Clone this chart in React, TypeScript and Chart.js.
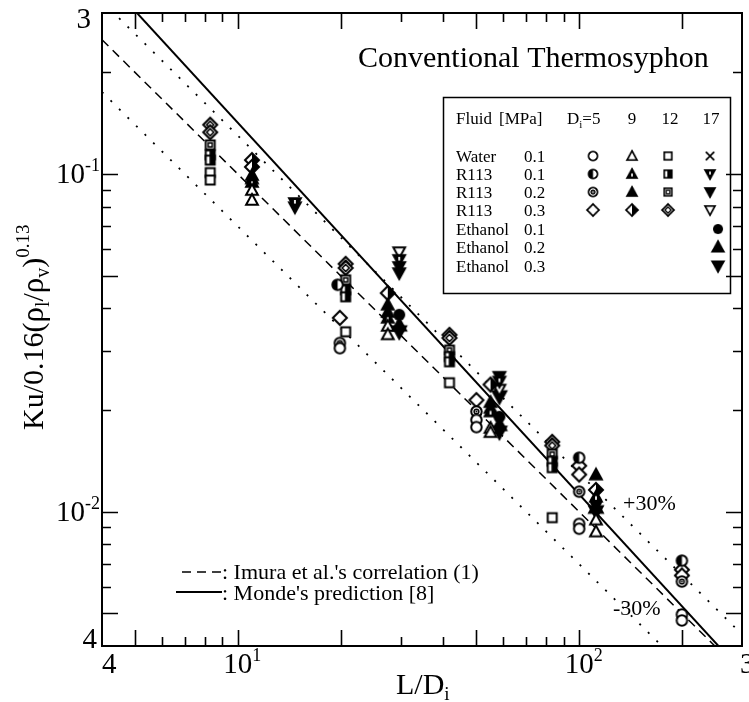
import React, { useEffect, useRef } from 'react';
import { Chart, registerables } from 'chart.js';

Chart.register(...registerables);

const FONT = '"Liberation Serif", "Times New Roman", serif';

// Axis ranges
const X_MIN = 4;
const X_MAX = 300;
const Y_MIN = 0.004;
const Y_MAX = 0.3;

// Tick values
const xTickVals = [5, 6, 7, 8, 9, 10, 20, 30, 40, 50, 60, 70, 80, 90, 100, 200];
const xLongTicks = [5, 10, 20, 50, 100, 200];
const yTickVals = [0.005, 0.006, 0.007, 0.008, 0.009, 0.01, 0.02, 0.03, 0.04, 0.05, 0.06, 0.07, 0.08, 0.09, 0.1, 0.2];
const yLongTicks = [0.005, 0.01, 0.05, 0.1];

// Correlation lines (end points read at the plot edges)
const imuraX = [4, 300];
const imuraY = [0.25, 0.00333];
const mondeX = [4, 300];
const mondeY = [0.389, 0.00336];
const plus30X = [4, 300];
const plus30Y = [0.325, 0.00433];
const minus30X = [4, 300];
const minus30Y = [0.175, 0.00233];

// Data: Di = 5
const water5X = [19.9, 50, 50, 100, 100, 200, 200];
const water5Y = [0.0305, 0.0187, 0.0178, 0.0092, 0.0089, 0.00496, 0.00476];
const r113a5X = [19.6, 100, 200];
const r113a5Y = [0.047, 0.01445, 0.00716];
const r113b5X = [19.9, 50, 100, 200];
const r113b5Y = [0.0316, 0.0198, 0.01146, 0.00621];
const r113c5X = [19.9, 50, 100, 100, 200, 200];
const r113c5Y = [0.0375, 0.0214, 0.01368, 0.01288, 0.00673, 0.00647];

// Di = 9
const water9X = [11, 11, 27.5, 27.5, 55, 55, 112, 112];
const water9Y = [0.0897, 0.0838, 0.0355, 0.0335, 0.0177, 0.0172, 0.00947, 0.00873];
const r113a9X = [11, 27.5, 55, 112];
const r113a9Y = [0.0947, 0.0375, 0.0198, 0.01107];
const r113b9X = [11, 11, 27.5, 27.5, 55, 55, 112];
const r113b9Y = [0.0993, 0.097, 0.041, 0.039, 0.0211, 0.0203, 0.01287];
const r113c9X = [11, 11, 27.5, 55, 112];
const r113c9Y = [0.11, 0.105, 0.0444, 0.0238, 0.0116];

// Di = 12
const water12X = [8.3, 8.3, 20.7, 41.7, 83.4];
const water12Y = [0.101, 0.096, 0.0341, 0.0241, 0.0096];
const r113a12X = [8.3, 8.3, 20.7, 20.7, 41.7, 41.7, 83.4, 83.4];
const r113a12Y = [0.114, 0.11, 0.0454, 0.0433, 0.0288, 0.0278, 0.0141, 0.0135];
const r113b12X = [8.3, 20.7, 41.7, 83.4];
const r113b12Y = [0.122, 0.0486, 0.0301, 0.0148];
const r113c12X = [8.3, 8.3, 20.7, 20.7, 41.7, 41.7, 83.4, 83.4];
const r113c12Y = [0.14, 0.133, 0.0542, 0.0527, 0.0334, 0.0327, 0.0161, 0.0157];

// Di = 17
const water17X: number[] = [];
const water17Y: number[] = [];
const r113a17X = [14.7, 29.7, 58.4];
const r113a17Y = [0.0821, 0.0557, 0.0243];
const r113b17X = [14.7, 29.7, 29.7, 58.4];
const r113b17Y = [0.0798, 0.0531, 0.0509, 0.0251];
const r113c17X = [29.7, 58.4];
const r113c17Y = [0.0587, 0.023];
const eth1X = [29.7, 58.4, 112];
const eth1Y = [0.0383, 0.0191, 0.0107];
const eth2X = [29.7, 58.4, 112];
const eth2Y = [0.0357, 0.0181, 0.0103];
const eth3X = [29.7, 58.4, 58.4, 112];
const eth3Y = [0.0341, 0.0219, 0.0172, 0.01];

// Legend text
const legendFluids = ['Water', 'R113', 'R113', 'R113', 'Ethanol', 'Ethanol', 'Ethanol'];
const legendPressures = ['0.1', '0.1', '0.2', '0.3', '0.1', '0.2', '0.3'];
const legendDiams = ['9', '12', '17'];

type Kind =
  | 'circle' | 'circleHalf' | 'circleDot' | 'circleFill'
  | 'diamond' | 'diamondHalf' | 'diamondDot'
  | 'tri' | 'triHalf' | 'triFill'
  | 'square' | 'squareHalf' | 'squareDot'
  | 'cross' | 'triDown' | 'triDownHalf' | 'triDownFill';

const SIZES: Record<string, number> = {
  circle: 12.5, circleHalf: 12.5, circleDot: 12.5, circleFill: 14,
  diamond: 16, diamondHalf: 16, diamondDot: 16,
  tri: 14, triHalf: 14, triFill: 14,
  square: 12, squareHalf: 12, squareDot: 12,
  cross: 12, triDown: 14, triDownHalf: 14, triDownFill: 14,
};

function makeMarker(kind: Kind, sizeOverride?: number): HTMLCanvasElement {
  const size = sizeOverride || SIZES[kind];
  const S = Math.ceil(size + 4);
  const c = document.createElement('canvas');
  c.width = S;
  c.height = S;
  const g = c.getContext('2d') as CanvasRenderingContext2D;
  const cx = S / 2;
  const cy = S / 2;
  const r = size / 2 - 1;
  g.lineWidth = 2;
  g.lineJoin = 'miter';
  g.strokeStyle = '#000';
  g.fillStyle = '#000';
  const circle = (rr: number) => { g.beginPath(); g.arc(cx, cy, rr, 0, Math.PI * 2); };
  const diamond = (rr: number) => {
    g.beginPath(); g.moveTo(cx, cy - rr); g.lineTo(cx + rr, cy); g.lineTo(cx, cy + rr); g.lineTo(cx - rr, cy); g.closePath();
  };
  const triUp = (rr: number) => {
    g.beginPath(); g.moveTo(cx, cy - rr); g.lineTo(cx + rr * 0.98, cy + rr * 0.78); g.lineTo(cx - rr * 0.98, cy + rr * 0.78); g.closePath();
  };
  const triDn = (rr: number) => {
    g.beginPath(); g.moveTo(cx, cy + rr); g.lineTo(cx + rr * 0.98, cy - rr * 0.78); g.lineTo(cx - rr * 0.98, cy - rr * 0.78); g.closePath();
  };
  const sq = (rr: number) => { g.beginPath(); g.rect(cx - rr, cy - rr, 2 * rr, 2 * rr); };
  const white = () => { g.fillStyle = '#fff'; g.fill(); g.fillStyle = '#000'; };
  switch (kind) {
    case 'circle': circle(r); white(); g.stroke(); break;
    case 'circleHalf':
      circle(r); white(); g.save(); g.clip(); g.fillRect(cx - r - 1, cy - r - 1, r + 1, 2 * r + 2); g.restore(); circle(r); g.stroke(); break;
    case 'circleDot':
      circle(r); white(); g.stroke(); g.lineWidth = 1.5; circle(r * 0.45); g.stroke(); circle(1); g.fill(); break;
    case 'circleFill': circle(r); g.fill(); break;
    case 'diamond': diamond(r); white(); g.stroke(); break;
    case 'diamondHalf':
      diamond(r); white(); g.save(); g.clip(); g.fillRect(cx, cy - r - 1, r + 1, 2 * r + 2); g.restore(); diamond(r); g.stroke(); break;
    case 'diamondDot':
      diamond(r); white(); g.stroke(); g.lineWidth = 1.6; diamond(r * 0.5); g.stroke(); break;
    case 'tri': triUp(r); white(); g.stroke(); break;
    case 'triHalf':
      triUp(r); g.fill(); g.stroke(); g.fillStyle = '#fff'; g.fillRect(cx - 0.9, cy - r * 0.1, 1.8, r * 0.6); break;
    case 'triFill': triUp(r); g.fill(); g.stroke(); break;
    case 'square': sq(r * 0.9); white(); g.stroke(); break;
    case 'squareHalf':
      sq(r * 0.9); white(); g.fillRect(cx - r * 0.15, cy - r * 0.9, r * 1.05, r * 1.8); sq(r * 0.9); g.stroke(); break;
    case 'squareDot':
      sq(r * 0.9); white(); g.stroke(); g.lineWidth = 1.5; sq(r * 0.4); g.stroke(); break;
    case 'cross':
      g.beginPath(); g.moveTo(cx - r, cy - r); g.lineTo(cx + r, cy + r); g.moveTo(cx + r, cy - r); g.lineTo(cx - r, cy + r); g.stroke(); break;
    case 'triDown': triDn(r); white(); g.stroke(); break;
    case 'triDownHalf':
      triDn(r); g.fill(); g.stroke(); g.fillStyle = '#fff'; g.fillRect(cx - 0.9, cy - r * 0.5, 1.8, r * 0.6); break;
    case 'triDownFill': triDn(r); g.fill(); g.stroke(); break;
  }
  return c;
}

type Run = [string, number, number?];

function runsWidth(ctx: CanvasRenderingContext2D, runs: Run[]) {
  let w = 0;
  for (const [t, s] of runs) {
    ctx.font = `${s}px ${FONT}`;
    w += ctx.measureText(t).width;
  }
  return w;
}

function drawRuns(ctx: CanvasRenderingContext2D, runs: Run[], x: number, y: number, align: 'left' | 'center' | 'right' = 'left') {
  const total = runsWidth(ctx, runs);
  let cx = align === 'left' ? x : align === 'center' ? x - total / 2 : x - total;
  ctx.textAlign = 'left';
  ctx.textBaseline = 'alphabetic';
  for (const [t, s, dy] of runs) {
    ctx.font = `${s}px ${FONT}`;
    ctx.fillText(t, cx, y + (dy || 0));
    cx += ctx.measureText(t).width;
  }
}

export default function App() {
  const ref = useRef<HTMLCanvasElement>(null);

  useEffect(() => {
    const M = {
      circle: makeMarker('circle'),
      circleHalf: makeMarker('circleHalf'),
      circleDot: makeMarker('circleDot'),
      diamond: makeMarker('diamond'),
      diamondHalf: makeMarker('diamondHalf'),
      diamondDot: makeMarker('diamondDot'),
      tri: makeMarker('tri'),
      triHalf: makeMarker('triHalf'),
      triFill: makeMarker('triFill'),
      square: makeMarker('square'),
      squareHalf: makeMarker('squareHalf'),
      squareDot: makeMarker('squareDot'),
      cross: makeMarker('cross'),
      triDown: makeMarker('triDown'),
      triDownHalf: makeMarker('triDownHalf'),
      triDownFill: makeMarker('triDownFill'),
      ethCircle: makeMarker('circleFill', 14),
      ethTri: makeMarker('triFill', 16),
      ethTriDown: makeMarker('triDownFill', 16),
    };

    const series = [
      { label: 'Water 0.1 D5', x: water5X, y: water5Y, m: M.circle },
      { label: 'R113 0.1 D5', x: r113a5X, y: r113a5Y, m: M.circleHalf },
      { label: 'R113 0.2 D5', x: r113b5X, y: r113b5Y, m: M.circleDot },
      { label: 'R113 0.3 D5', x: r113c5X, y: r113c5Y, m: M.diamond },
      { label: 'Water 0.1 D9', x: water9X, y: water9Y, m: M.tri },
      { label: 'R113 0.1 D9', x: r113a9X, y: r113a9Y, m: M.triHalf },
      { label: 'R113 0.2 D9', x: r113b9X, y: r113b9Y, m: M.triFill },
      { label: 'R113 0.3 D9', x: r113c9X, y: r113c9Y, m: M.diamondHalf },
      { label: 'Water 0.1 D12', x: water12X, y: water12Y, m: M.square },
      { label: 'R113 0.1 D12', x: r113a12X, y: r113a12Y, m: M.squareHalf },
      { label: 'R113 0.2 D12', x: r113b12X, y: r113b12Y, m: M.squareDot },
      { label: 'R113 0.3 D12', x: r113c12X, y: r113c12Y, m: M.diamondDot },
      { label: 'Water 0.1 D17', x: water17X, y: water17Y, m: M.cross },
      { label: 'R113 0.1 D17', x: r113a17X, y: r113a17Y, m: M.triDownHalf },
      { label: 'R113 0.2 D17', x: r113b17X, y: r113b17Y, m: M.triDownFill },
      { label: 'R113 0.3 D17', x: r113c17X, y: r113c17Y, m: M.triDown },
      { label: 'Ethanol 0.1', x: eth1X, y: eth1Y, m: M.ethCircle },
      { label: 'Ethanol 0.2', x: eth2X, y: eth2Y, m: M.ethTri },
      { label: 'Ethanol 0.3', x: eth3X, y: eth3Y, m: M.ethTriDown },
    ];

    const toPts = (xs: number[], ys: number[]) => xs.map((x, i) => ({ x, y: ys[i] }));

    const pointSets = series.map((s) => ({
      label: s.label,
      type: 'scatter' as const,
      data: toPts(s.x, s.y),
      pointStyle: s.m,
      pointRadius: 6,
      pointHoverRadius: 6,
      showLine: false,
    }));

    const lineSet = (label: string, xs: number[], ys: number[], dash: number[], width: number) => ({
      label,
      type: 'line' as const,
      data: toPts(xs, ys),
      borderColor: '#000',
      borderWidth: width,
      borderDash: dash,
      pointRadius: 0,
      showLine: true,
      fill: false,
    });

    const lineSets = [
      lineSet("Monde's prediction", mondeX, mondeY, [], 2),
      lineSet("Imura et al.'s correlation", imuraX, imuraY, [9, 6], 1.5),
      lineSet('+30%', plus30X, plus30Y, [2, 10], 1.8),
      lineSet('-30%', minus30X, minus30Y, [2, 10], 1.8),
    ];

    const deco = {
      id: 'deco',
      afterDatasetsDraw(chart: any) {
        const ctx: CanvasRenderingContext2D = chart.ctx;
        const xs = chart.scales.x;
        const ys = chart.scales.y;
        const { left, right, top, bottom } = chart.chartArea;
        ctx.save();
        ctx.strokeStyle = '#000';
        ctx.fillStyle = '#000';

        // frame
        ctx.lineWidth = 2;
        ctx.strokeRect(left, top, right - left, bottom - top);

        // ticks
        ctx.lineWidth = 1.6;
        ctx.beginPath();
        for (const v of xTickVals) {
          const px = Math.round(xs.getPixelForValue(v)) + 0.5;
          const len = xLongTicks.includes(v) ? 16 : 9;
          ctx.moveTo(px, bottom); ctx.lineTo(px, bottom - len);
          ctx.moveTo(px, top); ctx.lineTo(px, top + len);
        }
        for (const v of yTickVals) {
          const py = Math.round(ys.getPixelForValue(v)) + 0.5;
          const len = yLongTicks.includes(v) ? 16 : 9;
          ctx.moveTo(left, py); ctx.lineTo(left + len, py);
          ctx.moveTo(right, py); ctx.lineTo(right - len, py);
        }
        ctx.stroke();

        // x tick labels
        const LS = 29;
        const SS = 18;
        const xb = bottom + 27;
        drawRuns(ctx, [['4', LS]], xs.getPixelForValue(4), xb, 'left');
        for (const [v, e] of [[10, '1'], [100, '2']] as [number, string][]) {
          const px = xs.getPixelForValue(v);
          ctx.font = `${LS}px ${FONT}`;
          const w = ctx.measureText('10').width;
          drawRuns(ctx, [['10', LS], [e, SS, -12]], px - w / 2, xb, 'left');
        }
        drawRuns(ctx, [['3', LS]], xs.getPixelForValue(300) - 2, xb, 'left');

        // y tick labels
        drawRuns(ctx, [['3', LS]], left - 11, ys.getPixelForValue(0.3) + 15, 'right');
        drawRuns(ctx, [['10', LS], ['-1', SS, -12]], left - 2, ys.getPixelForValue(0.1) + 9, 'right');
        drawRuns(ctx, [['10', LS], ['-2', SS, -12]], left - 2, ys.getPixelForValue(0.01) + 9, 'right');
        drawRuns(ctx, [['4', LS]], left - 5, ys.getPixelForValue(0.004) + 2, 'right');

        // axis titles
        drawRuns(ctx, [['L/D', 30], ['i', 19, 6]], 396, 694, 'left');
        ctx.save();
        ctx.translate(43, 430);
        ctx.rotate(-Math.PI / 2);
        drawRuns(ctx, [
          ['Ku/0.16(', 30], ['ρ', 31], ['l', 20, 6], ['/', 30], ['ρ', 31], ['v', 20, 6], [')', 30], ['0.13', 19, -14],
        ], 0, 0, 'left');
        ctx.restore();

        // title
        drawRuns(ctx, [['Conventional Thermosyphon', 30]], 358, 67, 'left');

        // percentage labels
        drawRuns(ctx, [['+30%', 22]], 623, 510, 'left');
        drawRuns(ctx, [['-30%', 22]], 613, 615, 'left');

        // bottom-left line legend
        ctx.lineWidth = 1.5;
        ctx.setLineDash([9, 6]);
        ctx.beginPath(); ctx.moveTo(182, 572); ctx.lineTo(221, 572); ctx.stroke();
        ctx.setLineDash([]);
        ctx.lineWidth = 2;
        ctx.beginPath(); ctx.moveTo(176, 592); ctx.lineTo(222, 592); ctx.stroke();
        drawRuns(ctx, [[": Imura et al.'s correlation (1)", 22]], 222, 579, 'left');
        drawRuns(ctx, [[": Monde's prediction [8]", 22]], 222, 600, 'left');

        // legend box
        ctx.lineWidth = 1.5;
        ctx.strokeRect(443.5, 97.5, 287, 196);
        const FS = 17;
        drawRuns(ctx, [['Fluid', FS]], 456, 124, 'left');
        drawRuns(ctx, [['[MPa]', FS]], 499, 124, 'left');
        drawRuns(ctx, [['D', FS], ['i', 11, 4], ['=5', FS]], 567, 124, 'left');
        const colX = [632, 670, 711];
        legendDiams.forEach((d, i) => drawRuns(ctx, [[d, FS]], colX[i], 124, 'center'));
        const rowBase = [162, 180, 198, 216, 235, 253, 272];
        legendFluids.forEach((f, i) => {
          drawRuns(ctx, [[f, FS]], 456, rowBase[i], 'left');
          drawRuns(ctx, [[legendPressures[i], FS]], 524, rowBase[i], 'left');
        });
        const markX = [593, 632, 668, 710];
        const grid = [
          [M.circle, M.tri, M.square, M.cross],
          [M.circleHalf, M.triHalf, M.squareHalf, M.triDownHalf],
          [M.circleDot, M.triFill, M.squareDot, M.triDownFill],
          [M.diamond, M.diamondHalf, M.diamondDot, M.triDown],
        ];
        const legendScale = 0.85;
        grid.forEach((row, ri) => {
          row.forEach((m, ci) => {
            const cy = rowBase[ri] - 6;
            const w = m.width * legendScale;
            const h = m.height * legendScale;
            ctx.drawImage(m, markX[ci] - w / 2, cy - h / 2, w, h);
          });
        });
        [M.ethCircle, M.ethTri, M.ethTriDown].forEach((m, i) => {
          const cy = rowBase[4 + i] - 6;
          const w = m.width * legendScale;
          const h = m.height * legendScale;
          ctx.drawImage(m, 718 - w / 2, cy - h / 2, w, h);
        });

        ctx.restore();
      },
    };

    const chart = new Chart(ref.current as HTMLCanvasElement, {
      type: 'scatter',
      data: { datasets: [...pointSets, ...lineSets] as any },
      options: {
        responsive: false,
        maintainAspectRatio: false,
        devicePixelRatio: 1,
        animation: false,
        events: [],
        layout: { padding: { left: 102, right: 5, top: 13, bottom: 56 } },
        plugins: { legend: { display: false }, tooltip: { enabled: false }, title: { display: false } },
        scales: {
          x: { type: 'logarithmic', min: X_MIN, max: X_MAX, display: false },
          y: { type: 'logarithmic', min: Y_MIN, max: Y_MAX, display: false },
        },
      },
      plugins: [deco],
    });
    return () => chart.destroy();
  }, []);

  return (
    <div style={{ position: 'absolute', left: 0, top: 0, width: 749, height: 702, background: '#fff' }}>
      <canvas ref={ref} width={749} height={702} style={{ display: 'block', width: 749, height: 702 }} />
    </div>
  );
}
